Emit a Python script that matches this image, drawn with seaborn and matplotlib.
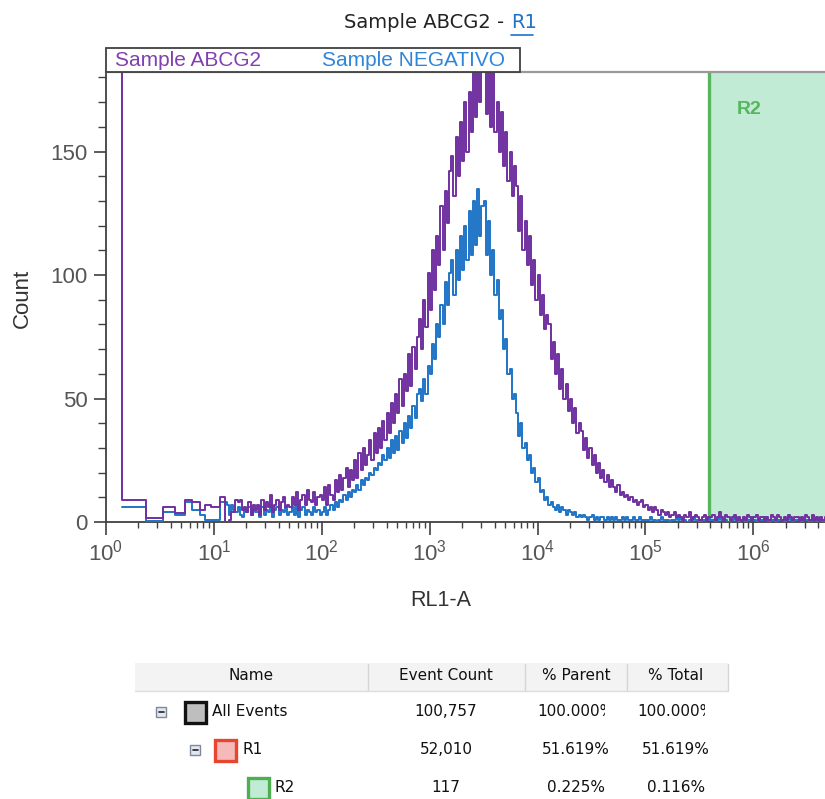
import numpy as np
import pandas as pd
import seaborn as sns
import matplotlib.pyplot as plt
from matplotlib.patches import Rectangle
from matplotlib.lines import Line2D
from matplotlib.transforms import Bbox, TransformedBbox
from matplotlib.ticker import MultipleLocator, LogLocator, FixedLocator, NullFormatter

# ---- data ----
# wide low-channel bins: log10(RL1-A) of the bin starts
low_bins = [-0.3, 0.145, 0.368, 0.531, 0.639, 0.732, 0.800, 0.871, 0.918, 0.973, 1.057]
abcg2_low = [400, 9, 1.5, 6, 3.5, 9, 8, 5, 7, 6, 10]
negativo_low = [6, 0.6, 4, 3, 8, 5, 3, 1, 1, 8]   # starts at low_bins[1]

# fine bins: start at log10 = 1.10, 0.02 decade wide (15 bins per row)
fine_start = 1.10
fine_width = 0.02
abcg2_fine = [
    0, 0, 1, 4, 4, 9, 8, 9, 5, 6, 4, 8, 3, 7, 5,
    7, 3, 9, 5, 8, 6, 11, 4, 7, 9, 5, 8, 10, 6, 7,
    6, 10, 7, 12, 5, 9, 11, 7, 13, 9, 8, 12, 7, 10, 11,
    9, 14, 7, 15, 11, 9, 17, 12, 19, 13, 18, 22, 14, 21, 17,
    25, 18, 28, 21, 30, 23, 27, 33, 25, 36, 28, 38, 30, 41, 33,
    44, 36, 48, 40, 52, 44, 58, 47, 60, 53, 68, 55, 71, 62, 75,
    82, 70, 90, 79, 101, 86, 110, 94, 116, 104, 128, 110, 134, 121, 142,
    148, 132, 156, 140, 162, 146, 170, 150, 174, 158, 186, 164, 190, 170, 188,
    190, 165, 186, 160, 192, 158, 170, 150, 166, 144, 158, 138, 150, 132, 144,
    136, 118, 132, 110, 122, 104, 116, 96, 106, 90, 100, 84, 92, 78, 84,
    80, 66, 73, 60, 68, 54, 62, 50, 56, 45, 50, 40, 46, 36, 40,
    37, 29, 34, 26, 30, 23, 27, 20, 24, 18, 21, 16, 19, 14, 17,
    14, 12, 15, 11, 12, 10, 11, 9, 10, 8, 9, 7, 8, 9, 6,
    7, 5, 6, 4, 6, 5, 3, 5, 4, 3, 4, 2, 3, 4, 2,
    3, 2, 1, 3, 2, 4, 1, 2, 3, 2, 1, 2, 3, 1, 2,
    2, 3, 1, 2, 4, 2, 1, 3, 2, 1, 2, 3, 1, 2, 1,
    2, 1, 3, 2, 1, 2, 3, 1, 2, 2, 1, 2, 1, 3, 2,
    1, 3, 2, 1, 2, 1, 3, 2, 1, 2, 2, 1, 2, 1, 3,
    2, 1, 3, 1, 2, 1, 2, 1, 2,
]
negativo_fine = [
    8, 7, 3, 7, 5, 4, 6, 3, 2, 5, 4, 6, 3, 5, 4,
    4, 2, 6, 3, 5, 4, 7, 2, 5, 6, 3, 5, 4, 6, 3,
    4, 6, 3, 7, 2, 5, 6, 3, 5, 4, 3, 6, 4, 5, 3,
    4, 6, 3, 5, 7, 5, 8, 6, 9, 8, 11, 9, 12, 10, 13,
    12, 15, 13, 17, 15, 18, 17, 20, 19, 22, 21, 24, 23, 27, 25,
    30, 26, 33, 28, 35, 29, 37, 32, 40, 34, 43, 38, 47, 42, 52,
    54, 49, 58, 52, 63, 60, 72, 66, 80, 75, 88, 80, 97, 88, 101,
    106, 92, 110, 98, 116, 102, 120, 106, 126, 108, 130, 112, 135, 116, 128,
    130, 108, 122, 100, 110, 92, 98, 82, 86, 70, 74, 60, 62, 50, 52,
    44, 35, 40, 30, 32, 25, 27, 20, 22, 16, 18, 12, 13, 9, 10,
    7, 8, 6, 5, 7, 4, 6, 5, 3, 5, 4, 3, 4, 2, 3,
    2, 3, 2, 1, 2, 3, 1, 2, 1, 2, 2, 1, 2, 1, 2,
    1, 2, 1, 1, 2, 1, 2, 1, 1, 2, 1, 1, 2, 1, 1,
    1, 1, 2, 1, 1, 0, 1, 2, 1, 1, 1, 0, 1, 1, 2,
    1, 2, 1, 1, 0, 1, 1, 2, 1, 1, 0, 1, 1, 1, 2,
    1, 1, 0, 1, 2, 1, 1, 1, 0, 1, 1, 2, 1, 0, 1,
    1, 0, 1, 1, 2, 1, 0, 1, 1, 1, 2, 1, 0, 1, 1,
    0, 1, 1, 1, 0, 1, 2, 1, 0, 1, 1, 1, 0, 1, 1,
    1, 0, 1, 1, 0, 1, 1, 0, 1,
]

r2_gate = 3.88e5
series_names = ["Sample ABCG2", "Sample NEGATIVO"]
x_ticks = [1e0, 1e1, 1e2, 1e3, 1e4, 1e5, 1e6]
x_ticklabels = ["$10^{0}$", "$10^{1}$", "$10^{2}$", "$10^{3}$", "$10^{4}$", "$10^{5}$", "$10^{6}$"]

table_header = ["Name", "Event Count", "% Parent", "% Total"]
table_names = ["All Events", "R1", "R2"]
table_counts = ["100,757", "52,010", "117"]
table_parent = ["100.000%", "51.619%", "0.225%"]
table_total = ["100.000%", "51.619%", "0.116%"]

PURPLE = "#7030A0"
BLUE = "#1F74C6"
GREEN = "#55B65C"


def hist_frame(low_x, low_y, fine_y):
    edges = list(low_x) + [fine_start + fine_width * i for i in range(len(fine_y) + 1)]
    counts = list(low_y) + list(fine_y)
    counts = counts + [counts[-1]]
    return pd.DataFrame({"rl1a": 10 ** np.array(edges), "count": counts})


df_abcg2 = hist_frame(low_bins, abcg2_low, abcg2_fine)
df_neg = hist_frame(low_bins[1:], negativo_low, negativo_fine)

sns.set_style("ticks")
plt.rcParams["font.family"] = ["Liberation Sans", "DejaVu Sans"]
plt.rcParams["mathtext.fontset"] = "custom"
plt.rcParams["mathtext.rm"] = "Liberation Sans"
plt.rcParams["mathtext.it"] = "Liberation Sans"
plt.rcParams["mathtext.default"] = "regular"

W, H = 825, 799
fig = plt.figure(figsize=(W / 100, H / 100), dpi=100)
ax = fig.add_axes([106 / W, (H - 522) / H, 719 / W, 450 / H])

# R2 gate
ax.axvspan(r2_gate, 1e8, color="#C2EBD5", lw=0, zorder=0)
ax.axvline(r2_gate, color=GREEN, lw=2.4, zorder=1)

sns.lineplot(data=df_neg, x="rl1a", y="count", drawstyle="steps-post",
             color=BLUE, lw=1.4, estimator=None, ax=ax, zorder=3)
sns.lineplot(data=df_abcg2, x="rl1a", y="count", drawstyle="steps-post",
             color=PURPLE, lw=1.4, estimator=None, ax=ax, zorder=4)

ax.set_xscale("log")
ax.set_xlim(1, 10 ** 6.664)
ax.set_ylim(0, 182.2)
ax.xaxis.set_major_locator(FixedLocator(x_ticks))
ax.set_xticklabels(x_ticklabels)
ax.xaxis.set_minor_locator(LogLocator(base=10, subs=np.arange(2, 10), numticks=100))
ax.xaxis.set_minor_formatter(NullFormatter())
ax.yaxis.set_major_locator(FixedLocator([0, 50, 100, 150]))
ax.yaxis.set_minor_locator(MultipleLocator(10))
ax.tick_params(axis="both", which="major", length=9, width=1.2, color="#404040",
               labelsize=16, labelcolor="#555555", pad=4)
ax.tick_params(axis="x", which="minor", length=4, width=1.0, color="#404040")
ax.tick_params(axis="y", which="minor", length=6, width=1.0, color="#404040")

for s in ["left", "bottom"]:
    ax.spines[s].set_color("#404040")
    ax.spines[s].set_linewidth(1.3)
ax.spines["top"].set_color("#999999")
ax.spines["top"].set_linewidth(1.6)
ax.spines["right"].set_visible(False)

ax.set_xlabel("RL1-A", fontsize=15.5, color="#333333")
ax.set_ylabel("Count", fontsize=16, color="#333333")
ax.xaxis.set_label_coords((441 - 106) / 719, (522 - 600) / 450)
ax.xaxis.label.set_va("center")
ax.yaxis.set_label_coords((22 - 106) / 719, (522 - 298) / 450)
ax.yaxis.label.set_va("center")

# legend strip sitting on top of the plot
ax.add_patch(Rectangle((0, 1), 414 / 719, 24 / 450, transform=ax.transAxes,
                       facecolor="white", edgecolor="#404040", lw=1.3, clip_on=False, zorder=5))
ax.text(9 / 719, 1 + 12 / 450, series_names[0], transform=ax.transAxes, fontsize=15,
        color="#8040B0", va="center", ha="left", zorder=6)
ax.text(216 / 719, 1 + 12 / 450, series_names[1], transform=ax.transAxes, fontsize=15,
        color="#2F85D8", va="center", ha="left", zorder=6)

ax.text(10 ** 5.96, 167, "R2", fontsize=14, fontweight="bold", color=GREEN,
        ha="center", va="center", zorder=6)


# ---- title and table in figure pixel coordinates ----
def fx(px):
    return px / W


def fy(py):
    return 1 - py / H


def box(x0, y0, x1, y1, **kw):
    r = Rectangle((fx(x0), fy(y1)), (x1 - x0) / W, (y1 - y0) / H,
                  transform=fig.transFigure, **kw)
    fig.add_artist(r)
    return r


tfont = dict(family="DejaVu Sans")
fig.text(fx(504), fy(22), "Sample ABCG2 -", ha="right", va="center", fontsize=14,
         color="#222222", **tfont)
fig.text(fx(511), fy(22), "R1", ha="left", va="center", fontsize=14, color="#1E73C8", **tfont)
fig.add_artist(Line2D([fx(511), fx(533)], [fy(35), fy(35)], color="#1E73C8", lw=1.2,
                      transform=fig.transFigure))

# header
box(135, 663, 728, 691, facecolor="#F3F3F3", edgecolor="none")
fig.add_artist(Line2D([fx(135), fx(728)], [fy(691), fy(691)], color="#DDDDDD", lw=1,
                      transform=fig.transFigure))
for sx in [368, 525, 627, 728]:
    fig.add_artist(Line2D([fx(sx), fx(sx)], [fy(664), fy(690)], color="#D5D5D5", lw=1,
                          transform=fig.transFigure))
for cx, lab in zip([251, 446, 576, 676], table_header):
    fig.text(fx(cx), fy(676), lab, ha="center", va="center", fontsize=11, color="#111111", **tfont)

row_y = [712, 750, 788]
icon_x = [161, 195, None]
swatch_x = [183, 213, 246]
swatch_style = [("#BEBEBE", "#111111"), ("#F5B9B9", "#E8452F"), ("#C2EBD5", "#4CB050")]
clip_right = [605, 705]

for i, y in enumerate(row_y):
    if icon_x[i] is not None:
        ix = icon_x[i]
        box(ix - 5, y - 5, ix + 5, y + 5, facecolor="#E2E8EF", edgecolor="#7C8A99", lw=1)
        fig.add_artist(Line2D([fx(ix - 2.5), fx(ix + 2.5)], [fy(y), fy(y)], color="#222222",
                              lw=1.2, transform=fig.transFigure))
    sx = swatch_x[i]
    fc, ec = swatch_style[i]
    box(sx + 1.5, y - 10.5, sx + 22.5, y + 10.5, facecolor=fc, edgecolor=ec, lw=2.4)
    fig.text(fx(sx + 29), fy(y), table_names[i], ha="left", va="center", fontsize=11,
             color="#111111", **tfont)
    fig.text(fx(446), fy(y), table_counts[i], ha="center", va="center", fontsize=11,
             color="#111111", **tfont)
    for cx, vals, cr in zip([576, 676], [table_parent, table_total], clip_right):
        t = fig.text(fx(cx), fy(y), vals[i], ha="center", va="center", fontsize=11,
                     color="#111111", **tfont)
        if i == 0:
            t.set_clip_on(True)
            t.set_clip_box(TransformedBbox(Bbox([[fx(cx - 60), 0], [fx(cr), 1]]),
                                           fig.transFigure))

fig.savefig("out.png", dpi=100)
